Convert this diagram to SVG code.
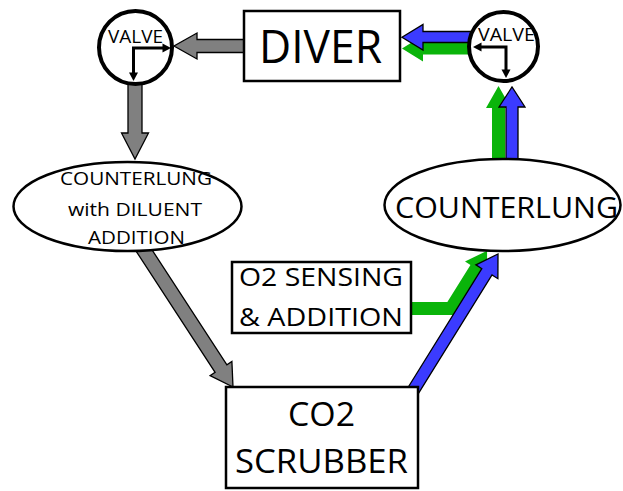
<svg xmlns="http://www.w3.org/2000/svg" width="623" height="491" viewBox="0 0 623 491">
<style>
.t{font-family:"Open Sans","Liberation Sans",sans-serif;fill:#000;text-anchor:middle}
.box{fill:#fff;stroke:#000;stroke-width:2.5}
.vc{fill:#fff;stroke:#000;stroke-width:4}
.gray{fill:#808080;stroke:#000;stroke-width:1.3;stroke-linejoin:miter}
.blue{fill:#3b3bff;stroke:#000;stroke-width:1.3;stroke-linejoin:miter}
.green{fill:#0ab40a}
.gline{fill:none;stroke:#0ab40a;stroke-width:13;stroke-linejoin:miter}
.vl{fill:none;stroke:#000;stroke-width:3}
.vh{fill:#000}
</style>
<rect width="623" height="491" fill="#fff"/>
<g id="connectors">
  <polygon class="gray" points="250,39.5 197,39.5 197,33 174,46 197,59 197,52.5 250,52.5"/>
  <polygon class="gray" points="128,80 142,80 142,133 148.5,133 135,159 121.5,133 128,133"/>
  <polygon class="gray" points="148.2,244 226.9,364.8 231.9,361.5 233,387 210.1,375.7 215.1,372.4 136.4,251.6"/>
  <polyline class="gline" points="405,308.5 451,308.5 478,265.3"/>
  <polygon class="green" points="465,261.6 487.1,250.7 487,275.4"/>
  <polygon class="blue" points="408.3,387 481.8,268.6 475.9,264.9 498,254 497.9,278.7 492,275 418.5,393.4"/>
  <polygon class="green" points="492,175 492,108 486,108 498.5,86 511,108 505,108 505,175"/>
  <polygon class="blue" points="506,175 506,107 499,107 512,87 525,107 518,107 518,175"/>
  <polygon class="green" points="480,42.5 423,42.5 423,35.5 402,48.5 423,61.5 423,54.5 480,54.5"/>
  <polygon class="blue" points="480,31.5 423,31.5 423,24.5 402,37.3 423,50 423,42.5 480,42.5"/>
</g>
<g id="valve-left">
  <circle class="vc" cx="135.5" cy="47.5" r="36.5"/>
  <text class="t" x="135.5" y="43.3" font-size="19" textLength="55" lengthAdjust="spacingAndGlyphs">VALVE</text>
  <path class="vl" d="M163,48 H133.5 V73"/>
  <polygon class="vh" points="171,48 162.5,43.5 162.5,52.5"/>
  <polygon class="vh" points="133.5,81 129,72.5 138,72.5"/>
</g>
<g id="diver">
  <rect class="box" x="244" y="11" width="156" height="70"/>
  <text class="t" x="320.5" y="63" font-size="46" textLength="123" lengthAdjust="spacingAndGlyphs">DIVER</text>
</g>
<g id="valve-right">
  <circle class="vc" cx="503.5" cy="46.5" r="34.5"/>
  <text class="t" x="506.5" y="41" font-size="19" textLength="57" lengthAdjust="spacingAndGlyphs">VALVE</text>
  <path class="vl" d="M481,47 H506 V70"/>
  <polygon class="vh" points="473,47 481.5,42.5 481.5,51.5"/>
  <polygon class="vh" points="506,78 501.5,69.5 510.5,69.5"/>
</g>
<g id="counterlung-diluent">
  <ellipse class="box" cx="127.5" cy="206.5" rx="114" ry="44.5"/>
  <text class="t" x="136" y="185" font-size="18.5" textLength="152" lengthAdjust="spacingAndGlyphs">COUNTERLUNG</text>
  <text class="t" x="135" y="216" font-size="18.5" textLength="134" lengthAdjust="spacingAndGlyphs">with DILUENT</text>
  <text class="t" x="136.5" y="244" font-size="18.5" textLength="97" lengthAdjust="spacingAndGlyphs">ADDITION</text>
</g>
<g id="counterlung">
  <ellipse class="box" cx="502.5" cy="205" rx="118" ry="46"/>
  <text class="t" x="506.5" y="218" font-size="29.5" textLength="223" lengthAdjust="spacingAndGlyphs">COUNTERLUNG</text>
</g>
<g id="o2-sensing">
  <rect class="box" x="232" y="262" width="179" height="71"/>
  <text class="t" x="321" y="286" font-size="25" textLength="164" lengthAdjust="spacingAndGlyphs">O2 SENSING</text>
  <text class="t" x="321" y="326" font-size="25" textLength="164" lengthAdjust="spacingAndGlyphs">&amp; ADDITION</text>
</g>
<g id="co2-scrubber">
  <rect class="box" x="226" y="387" width="192" height="101"/>
  <text class="t" x="321.5" y="426" font-size="32" textLength="67" lengthAdjust="spacingAndGlyphs">CO2</text>
  <text class="t" x="321.5" y="473" font-size="32" textLength="173" lengthAdjust="spacingAndGlyphs">SCRUBBER</text>
</g>
</svg>
